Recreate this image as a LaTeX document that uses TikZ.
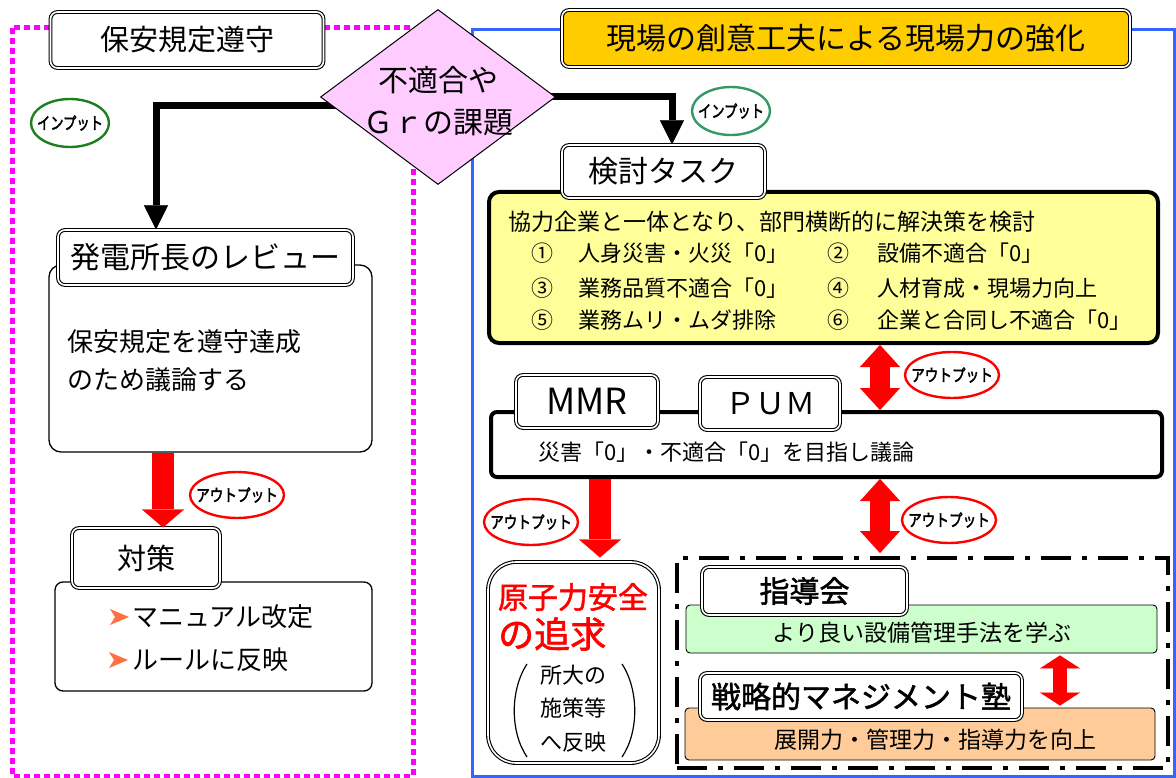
\documentclass[tikz,border=0pt]{standalone}
\usepackage{fontspec}
\usepackage{graphicx}
\setmainfont{Noto Sans CJK JP}
\newfontfamily\jpsemi[FakeBold=1.6]{Noto Sans CJK JP}
\newfontfamily\jpheavy[FakeBold=2.6]{Noto Sans CJK JP}
\usetikzlibrary{shapes.geometric,arrows.meta,calc}
\definecolor{pinkdot}{HTML}{FF00FF}
\definecolor{bluefr}{HTML}{3366FF}
\definecolor{diafill}{HTML}{FFCCFF}
\definecolor{goldfill}{HTML}{FFCC00}
\definecolor{ylwfill}{HTML}{FFFF99}
\definecolor{grnfill}{HTML}{CCFFCC}
\definecolor{orgfill}{HTML}{FFCC99}
\definecolor{inpgreen}{HTML}{1E7F1E}
\definecolor{inpteal}{HTML}{339966}
\definecolor{bulletc}{HTML}{FF7043}
\newcommand\jpfs[1]{\fontsize{#1pt}{#1pt}\selectfont}
\pgfdeclarelayer{bg}
\pgfsetlayers{bg,main}
\begin{document}
\begin{tikzpicture}[x=1pt,y=-1pt,
 tbox/.style={draw=black, double=white, double distance=1.6pt, line width=1.1pt, rounded corners=7pt, fill=white, inner sep=0pt},
 thinbox/.style={draw=black, line width=1.3pt, rounded corners=10pt, fill=white, inner sep=0pt},
 thickbox/.style={draw=black, line width=4pt, rounded corners=8pt, inner sep=0pt},
 softbox/.style={draw=black, line width=0.9pt, rounded corners=4pt, inner sep=0pt},
 lbl/.style={inner sep=0pt, anchor=west},
 ctr/.style={inner sep=0pt},
 blk/.style={draw=black, line width=7pt, -{Triangle[length=24pt,width=24pt,line width=0.1pt]}},
 redone/.style={draw=red, line width=22pt, -{Triangle[length=18pt,width=42pt,line width=0.1pt]}},
 redtwo/.style={draw=red, line width=20pt, {Triangle[length=22pt,width=40pt,line width=0.1pt]}-{Triangle[length=22pt,width=40pt,line width=0.1pt]}},
 redsmall/.style={draw=red, line width=14pt, {Triangle[length=13pt,width=40pt,line width=0.1pt]}-{Triangle[length=13pt,width=40pt,line width=0.1pt]}},
 outell/.style={ellipse, draw=red, line width=2.4pt, fill=white, minimum width=94pt, minimum height=46pt, inner sep=0pt, font=\jpheavy\jpfs{17}},
 inell/.style={ellipse, line width=2.4pt, fill=white, minimum width=78pt, minimum height=48pt, inner sep=0pt, font=\jpheavy\jpfs{17}},
 pinkframe/.style={draw=pinkdot, line width=5pt, dash pattern=on 6pt off 4pt},
 dashframe/.style={draw=black, line width=4pt, dash pattern=on 30pt off 11pt on 5pt off 11pt, inner sep=0pt},
]
\useasboundingbox (0,0) rectangle (1176,778);
\begin{pgfonlayer}{bg}
\fill[white] (0,0) rectangle (1176,778);
\draw[pinkframe] (12,28) rectangle (413,776);
\draw[bluefr, line width=3pt] (472,30) rectangle (1174,776);
\end{pgfonlayer}

% ---------- diamond ----------
\node[diamond, draw=black, line width=1pt, fill=diafill, minimum width=235pt, minimum height=175pt, inner sep=0pt] (dia) at (438,97) {};
\node[ctr, align=center, font={\fontsize{30pt}{42pt}\selectfont}] (diatxt) at (438,101) {不適合や\\Ｇｒの課題};

% ---------- left panel ----------
\node[tbox, minimum width=273pt, minimum height=56pt, font=\jpfs{29}] (t1) at (187,40) {保安規定遵守};
\node[inell, draw=inpgreen] (in1) at (70,123) {\makebox[0pt]{\scalebox{0.78}[1]{インプット}}};
\node[thinbox, rounded corners=12pt, minimum width=323pt, minimum height=187pt] (revbox) at (210.5,358.5) {};
\node[tbox, minimum width=295pt, minimum height=55pt, font=\jpfs{30}] (revt) at (205.5,257.5) {発電所長のレビュー};
\node[lbl, font=\jpfs{26}] (rv1) at (67,342) {保安規定を遵守達成};
\node[lbl, font=\jpfs{26}] (rv2) at (67,380) {のため議論する};
\node[thinbox, rounded corners=8pt, minimum width=317pt, minimum height=109pt] (taibox) at (213.5,636.5) {};
\node[tbox, minimum width=148pt, minimum height=60pt, font=\jpfs{29}] (tait) at (146,558) {対策};
\fill[bulletc] (110,609) -- (129,617) -- (110,625) -- (115,617) -- cycle;
\fill[bulletc] (109,652) -- (128,660) -- (109,668) -- (114,660) -- cycle;
\node[lbl, font=\jpfs{26}] (tb1) at (132,617) {マニュアル改定};
\node[lbl, font=\jpfs{26}] (tb2) at (132,660) {ルールに反映};
\node[outell] (out1) at (237,495) {\makebox[0pt]{\scalebox{0.8}[1]{アウトプット}}};
\coordinate (x1) at (163,0);
\draw[redone] (revbox.south -| x1) -- (tait.north -| x1);

% ---------- right panel ----------
\node[tbox, fill=goldfill, minimum width=568pt, minimum height=57pt, font=\jpfs{30}] (t2) at (846,38.5) {現場の創意工夫による現場力の強化};
\node[inell, draw=inpteal] (in2) at (731,111) {\makebox[0pt]{\scalebox{0.78}[1]{インプット}}};
\node[thickbox, fill=ylwfill, rounded corners=10pt, minimum width=669pt, minimum height=151pt] (ybox) at (823.5,267.5) {};
\node[tbox, minimum width=203pt, minimum height=53pt, font=\jpfs{30}] (kentou) at (663.5,171.5) {検討タスク};
\node[lbl, font=\jpfs{23}] (y0) at (508,222) {協力企業と一体となり、部門横断的に解決策を検討};
\node[ctr, font=\jpfs{22}] (n1) at (542,253) {①};
\node[lbl, font=\jpfs{22}] (y1) at (578,253) {人身災害・火災「0」};
\node[ctr, font=\jpfs{22}] (n2) at (838,253) {②};
\node[lbl, font=\jpfs{22}] (y2) at (877,253) {設備不適合「0」};
\node[ctr, font=\jpfs{22}] (n3) at (542,288) {③};
\node[lbl, font=\jpfs{22}] (y3) at (578,288) {業務品質不適合「0」};
\node[ctr, font=\jpfs{22}] (n4) at (838,288) {④};
\node[lbl, font=\jpfs{22}] (y4) at (877,288) {人材育成・現場力向上};
\node[ctr, font=\jpfs{22}] (n5) at (542,320) {⑤};
\node[lbl, font=\jpfs{22}] (y5) at (578,320) {業務ムリ・ムダ排除};
\node[ctr, font=\jpfs{22}] (n6) at (838,320) {⑥};
\node[lbl, font=\jpfs{22}] (y6) at (877,320) {企業と合同し不適合「0」};

\node[thickbox, fill=white, rounded corners=6pt, minimum width=671pt, minimum height=65pt] (bar) at (826.5,444.5) {};
\node[tbox, minimum width=142pt, minimum height=53pt, font=\jpfs{36}] (mmr) at (587,401.5) {MMR};
\node[tbox, minimum width=140pt, minimum height=53pt, font=\jpfs{30}] (pum) at (770,403.5) {ＰＵＭ};
\node[lbl, font=\jpfs{22}] (bartxt) at (538,452) {災害「0」・不適合「0」を目指し議論};

% genshiryoku box
\node[tbox, rounded corners=28pt, minimum width=171pt, minimum height=201pt] (gen) at (573.5,662.5) {};
\node[ctr, font=\jpsemi\jpfs{30}, text=red] (g1) at (573,597) {原子力安全};
\node[lbl, font=\jpsemi\jpfs{36}, text=red] (g2) at (498,634) {の追求};
\node[ctr, font=\jpfs{22}] (g3) at (573,675) {所大の};
\node[ctr, font=\jpfs{22}] (g4) at (573,708) {施策等};
\node[ctr, font=\jpfs{22}] (g5) at (573,742) {へ反映};
\draw[line width=1.2pt] (527,664) .. controls (510,690) and (510,732) .. (527,757);
\draw[line width=1.2pt] (622,664) .. controls (639,690) and (639,732) .. (622,757);

% dash-dot group
\node[dashframe, minimum width=491pt, minimum height=210pt] (grp) at (922.5,663) {};
\node[softbox, fill=grnfill, minimum width=471pt, minimum height=48pt] (gbox) at (921.5,629) {};
\node[ctr, font=\jpfs{23}] (gtxt) at (922,633) {より良い設備管理手法を学ぶ};
\node[tbox, minimum width=205pt, minimum height=48pt, font=\jpsemi\jpfs{30}] (shidou) at (804.5,591) {指導会};
\node[softbox, fill=orgfill, minimum width=470pt, minimum height=52pt] (obox) at (920,734) {};
\node[ctr, font=\jpfs{23}] (otxt) at (935,740) {展開力・管理力・指導力を向上};
\node[tbox, minimum width=322pt, minimum height=47pt, font=\jpsemi\jpfs{30}] (senr) at (861,696.5) {戦略的マネジメント塾};

% red arrows right
\coordinate (x2) at (600,0);
\coordinate (x3) at (880,0);
\coordinate (x4) at (1060,0);
\draw[redtwo] (ybox.south -| x3) -- (bar.north -| x3);
\draw[redone, shorten >=4pt] (bar.south -| x2) -- (gen.north -| x2);
\draw[redtwo, shorten >=3pt] (bar.south -| x3) -- (grp.north -| x3);
\draw[redsmall, shorten >=2pt, shorten <=2pt] (gbox.south -| x4) -- (obox.north -| x4);
\node[outell] (out2) at (952,375) {\makebox[0pt]{\scalebox{0.8}[1]{アウトプット}}};
\node[outell] (out3) at (531,522) {\makebox[0pt]{\scalebox{0.8}[1]{アウトプット}}};
\node[outell] (out4) at (949,520) {\makebox[0pt]{\scalebox{0.8}[1]{アウトプット}}};

% black input arrows (behind diamond)
\coordinate (ay) at (0,106);
\coordinate (lx) at (156,0);
\coordinate (ry) at (0,97);
\coordinate (rx) at (672,0);
\begin{pgfonlayer}{bg}
\draw[blk] (dia.center |- ay) -| (revt.north -| lx);
\draw[blk] (dia.center |- ry) -| (kentou.north -| rx);
\end{pgfonlayer}
\end{tikzpicture}
\end{document}
